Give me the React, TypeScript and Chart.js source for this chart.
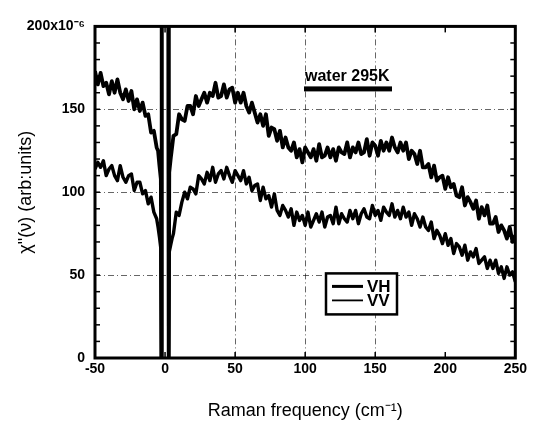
import { useEffect, useRef } from 'react';
import { Chart, registerables } from 'chart.js';

Chart.register(...registerables);

// Raman frequency (cm^-1)
const freq = [
  -50, -48, -46, -44, -42, -40, -38, -36, -34, -32, -30, -28, -26, -24, -22, -20, -18, -16, -14, -12, -10, -8, -6, -5, -4, -3,
  -2.6, -2.4, 2.4, 2.6,
  3, 4, 5,
  6, 8, 10, 12, 14, 16, 18, 20, 22, 24, 26, 28, 30, 32, 34, 36, 38, 40, 42, 44, 46, 48, 50, 52, 54, 56, 58, 60,
  62, 64, 66, 68, 70, 72, 74, 76, 78, 80, 82, 84, 86, 88, 90, 92, 94, 96, 98, 100, 102, 104, 106, 108, 110, 112,
  114, 116, 118, 120, 122, 124, 126, 128, 130, 132, 134, 136, 138, 140, 142, 144, 146, 148, 150, 152, 154, 156,
  158, 160, 162, 164, 166, 168, 170, 172, 174, 176, 178, 180, 182, 184, 186, 188, 190, 192, 194, 196, 198, 200,
  202, 204, 206, 208, 210, 212, 214, 216, 218, 220, 222, 224, 226, 228, 230, 232, 234, 236, 238, 240, 242, 244,
  246, 248, 250,
];

// chi''(nu), units of 1e-6
const vh = [
  173, 165, 172, 164, 166, 159, 167, 160, 168, 160, 156, 162, 155, 161, 150, 156, 149, 154, 146, 147, 136, 137, 127, 125, 116, 108,
  0, 210, 210, 0,
  112, 120, 127,
  134, 135, 147, 144, 143, 152, 152, 147, 158, 152,
  156, 160, 154, 160, 158, 166, 157, 158, 165, 157,
  162, 163, 154, 160, 154, 160, 152, 148, 154, 148,
  142, 147, 140, 147, 134, 139, 138, 131, 137, 127,
  133, 127, 125, 130, 121, 126, 118, 127, 124, 121,
  126, 119, 129, 121, 122, 127, 121, 126, 119, 127,
  124, 123, 130, 121, 127, 124, 130, 123, 124, 132,
  122, 130, 128, 122, 131, 125, 130, 125, 133, 127,
  124, 130, 125, 130, 120, 125, 123, 117, 125, 115,
  115, 117, 109, 116, 107, 109, 110, 102, 109, 103,
  105, 98, 97, 103, 92, 97, 94, 90, 95, 84,
  91, 86, 92, 81, 81, 85, 76, 80, 77, 72,
  79, 70, 74,
];

const vv = [
  114, 118, 115, 119, 110, 114, 116, 110, 107, 116, 109, 106, 110, 111, 101, 106, 106, 99, 101, 93, 97, 88, 84, 79, 73, 66,
  0, 210, 210, 0,
  64, 68, 72,
  75, 88, 86, 94, 100, 96, 103, 102, 99, 110,
  108, 105, 112, 107, 115, 106, 111, 113, 108, 115,
  110, 106, 113, 110, 107, 113, 105, 109, 101, 104,
  105, 95, 103, 96, 98, 91, 99, 89, 86, 92,
  89, 85, 90, 80, 88, 83, 86, 80, 88, 79,
  83, 87, 82, 88, 79, 85, 86, 81, 91, 81,
  87, 84, 82, 89, 84, 89, 81, 87, 90, 85,
  84, 92, 86, 89, 83, 91, 88, 86, 93, 85,
  89, 84, 91, 85, 88, 80, 87, 84, 79, 85,
  79, 77, 82, 72, 77, 74, 69, 75, 68, 72,
  63, 69, 67, 62, 68, 59, 64, 61, 66, 57,
  59, 61, 54, 59, 54, 59, 51, 55, 48, 55,
  50, 52, 46,
];

const seriesLabels = ['VH', 'VV'];
const xTicks = [-50, 0, 50, 100, 150, 200, 250];
const yTicks = [0, 50, 100, 150, 200];
const yMinorTicks = [10, 20, 30, 40, 60, 70, 80, 90, 110, 120, 130, 140, 160, 170, 180, 190];
const yTopLabel = '200x10\u207B\u2076';
const noteText = 'water 295K';
const xTitle = 'Raman frequency (cm\u207B\u00B9)';
const yTitle = 'χ"(ν) (arb:units)';

const FONT = '"Liberation Sans", Arial, Helvetica, sans-serif';

export default function App() {
  const ref = useRef<HTMLCanvasElement>(null);

  useEffect(() => {
    if (!ref.current) return;

    const framePlugin = {
      id: 'framePlugin',
      afterDatasetsDraw(chart: any) {
        const { ctx, chartArea: a, scales } = chart;
        const xs = scales.x;
        const ys = scales.y;
        ctx.save();
        ctx.strokeStyle = '#000';
        ctx.fillStyle = '#000';
        const seg = (x1: number, y1: number, x2: number, y2: number) => {
          ctx.beginPath();
          ctx.moveTo(x1, y1);
          ctx.lineTo(x2, y2);
          ctx.stroke();
        };
        // inward ticks
        ctx.lineWidth = 1.5;
        for (const v of yMinorTicks.concat(yTicks)) {
          const py = ys.getPixelForValue(v);
          seg(a.left, py, a.left + 5, py);
          seg(a.right, py, a.right - 5, py);
        }
        for (const v of xTicks) {
          const px = xs.getPixelForValue(v);
          seg(px, a.bottom, px, a.bottom - 6);
          seg(px, a.top, px, a.top + 6);
        }
        // frame
        ctx.lineWidth = 3;
        ctx.strokeRect(a.left, a.top, a.right - a.left, a.bottom - a.top);

        // annotation
        ctx.font = `bold 16px ${FONT}`;
        ctx.textAlign = 'left';
        ctx.textBaseline = 'alphabetic';
        ctx.fillText(noteText, a.left + 210, a.top + 55);
        ctx.fillRect(a.left + 209, a.top + 60, 88, 5);

        // legend
        const lx = a.left + 231;
        const ly = a.top + 247;
        ctx.fillStyle = '#fff';
        ctx.fillRect(lx, ly, 71, 41);
        ctx.lineWidth = 2.5;
        ctx.strokeRect(lx, ly, 71, 41);
        ctx.fillStyle = '#000';
        ctx.font = `bold 17px ${FONT}`;
        ctx.textBaseline = 'middle';
        chart.data.datasets.forEach((ds: any, i: number) => {
          const yy = ly + 13 + i * 14;
          ctx.lineWidth = i === 0 ? 3 : 1.8;
          seg(lx + 6, yy, lx + 37, yy);
          ctx.fillText(ds.label, lx + 41, yy + 1);
        });
        ctx.restore();
      },
    };

    const gridColor = (c: any) => {
      const v = c.tick && c.tick.value;
      return v === 0 || v === 200 || v === -50 || v === 250 ? 'rgba(0,0,0,0)' : 'rgba(0,0,0,0.6)';
    };

    const chart = new Chart(ref.current, {
      type: 'line',
      data: {
        datasets: [
          {
            label: seriesLabels[0],
            data: freq.map((f, i) => ({ x: f, y: vh[i] })),
            borderColor: '#000',
            borderWidth: 3.8,
            borderJoinStyle: 'round',
            pointRadius: 0,
            tension: 0,
            clip: 0,
          },
          {
            label: seriesLabels[1],
            data: freq.map((f, i) => ({ x: f, y: vv[i] })),
            borderColor: '#000',
            borderWidth: 3.4,
            borderJoinStyle: 'round',
            pointRadius: 0,
            tension: 0,
            clip: 0,
          },
        ],
      },
      options: {
        animation: false,
        responsive: true,
        maintainAspectRatio: false,
        devicePixelRatio: 1,
        events: [],
        layout: { padding: { top: 11, right: 14, bottom: 0, left: 0 } },
        plugins: { legend: { display: false }, tooltip: { enabled: false } },
        scales: {
          x: {
            type: 'linear',
            min: -50,
            max: 250,
            afterFit: (s: any) => { s.height = 66; },
            afterBuildTicks: (s: any) => { s.ticks = xTicks.map((v) => ({ value: v })); },
            ticks: {
              padding: 3,
              color: '#000',
              maxRotation: 0,
              font: { family: FONT, size: 14, weight: 'bold' },
            },
            grid: { drawTicks: false, color: gridColor, lineWidth: 1, borderDash: [6, 3, 1, 3] } as any,
            border: { display: false, dash: [6, 3, 1, 3] },
            title: {
              display: true,
              text: xTitle,
              color: '#000',
              font: { family: FONT, size: 18 },
              padding: { top: 0, bottom: 2 },
            },
          },
          y: {
            type: 'linear',
            min: 0,
            max: 200,
            afterFit: (s: any) => { s.width = 87; },
            afterBuildTicks: (s: any) => { s.ticks = yTicks.map((v) => ({ value: v })); },
            ticks: {
              padding: 10,
              color: '#000',
              font: { family: FONT, size: 14, weight: 'bold' },
              callback: (v: any) => (v === 200 ? yTopLabel : String(v)),
            },
            grid: { drawTicks: false, color: gridColor, lineWidth: 1, borderDash: [6, 3, 1, 3] } as any,
            border: { display: false, dash: [6, 3, 1, 3] },
            title: {
              display: true,
              text: yTitle,
              color: '#000',
              font: { family: FONT, size: 18 },
              padding: { top: 7, bottom: 0 },
            },
          },
        },
      } as any,
      plugins: [framePlugin],
    });

    return () => chart.destroy();
  }, []);

  return (
    <div style={{ width: 522, height: 416, position: 'relative' }}>
      <canvas ref={ref} />
    </div>
  );
}
